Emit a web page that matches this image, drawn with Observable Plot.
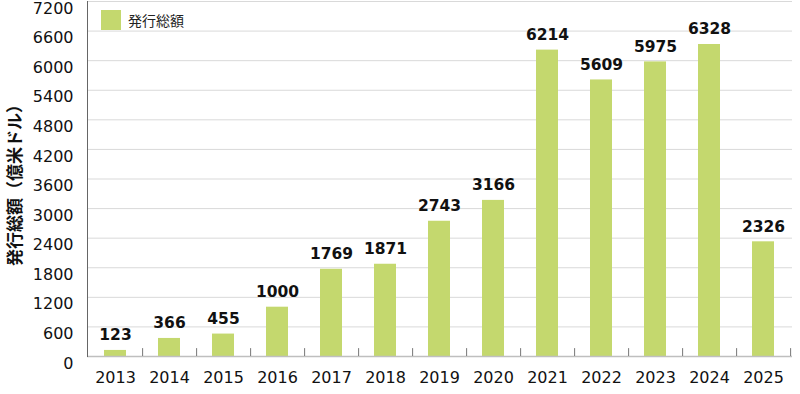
<!DOCTYPE html>
<html><head><meta charset="utf-8">
<script src="https://cdn.jsdelivr.net/npm/d3@7"></script>
<script src="https://cdn.jsdelivr.net/npm/@observablehq/plot@0.6"></script>
<style>
body{margin:0;background:#fff;font-family:"Noto Sans CJK JP","Noto Sans",sans-serif;}
#wrap{position:relative;width:800px;height:394px;}
#legend{position:absolute;left:101px;top:10px;display:flex;align-items:center;font-size:14px;color:#222;}
#legend span.sw{display:inline-block;width:20px;height:20px;background:#c4d86e;margin-right:7px;}
</style>
</head><body>
<div id="wrap"><div id="legend"><span class="sw"></span><span>発行総額</span></div></div>
<script>
const years = ["2013","2014","2015","2016","2017","2018","2019","2020","2021","2022","2023","2024","2025"];
const values = [123,366,455,1000,1769,1871,2743,3166,6214,5609,5975,6328,2326];
const yTicks = [0,600,1200,1800,2400,3000,3600,4200,4800,5400,6000,6600,7200];
const seriesName = "発行総額";
const yTitle = "発行総額（億米ドル）";

const data = years.map((y,i)=>({year:y, value:values[i]}));
const mL=87, mR=8, W=800;
const step=(W-mL-mR)/years.length;
const numFont = '"DejaVu Sans",sans-serif';

const chart = Plot.plot({
  width:800, height:394,
  marginLeft:mL, marginRight:mR, marginTop:1, marginBottom:38,
  style:{fontFamily:'"Noto Sans CJK JP","Noto Sans",sans-serif', background:"#fff"},
  x:{domain:years, paddingInner:0.59, paddingOuter:0.295, align:0.5},
  y:{domain:[0,7200]},
  marks:[
    Plot.gridY(yTicks,{stroke:"#d9d9d9", strokeOpacity:1, strokeWidth:1}),
    Plot.barY(data,{x:"year", y:"value", fill:"#c4d86e"}),
    Plot.text(data,{x:"year", y:"value", text:d=>String(d.value), lineAnchor:"bottom", dy:-10, fontSize:15.5, fontWeight:"bold", fill:"#111", fontFamily:numFont}),
    Plot.ruleY([0],{stroke:"#bfbfbf", strokeWidth:1.5}),
    Plot.ruleX(years,{x:d=>d, y1:0, y2:160, dx:step/2, stroke:"#777", strokeWidth:1}),
    Plot.frame({anchor:"left", stroke:"#666"}),
    Plot.axisY({ticks:yTicks, tickFormat:d=>String(d), tickSize:0, tickPadding:14, dy:7, fontSize:16, fill:"#111", label:null, fontFamily:numFont}),
    Plot.axisX({tickSize:0, tickPadding:15, fontSize:16, fill:"#111", label:null, fontFamily:numFont}),
  ]
});
document.getElementById("wrap").prepend(chart);
const svg = d3.select(chart);
svg.append("text").attr("transform","translate(13,181) rotate(-90)")
  .attr("text-anchor","middle").attr("dominant-baseline","central").attr("font-size",17).attr("font-weight","bold")
  .attr("fill","#111").text(yTitle);
</script>
</body></html>
